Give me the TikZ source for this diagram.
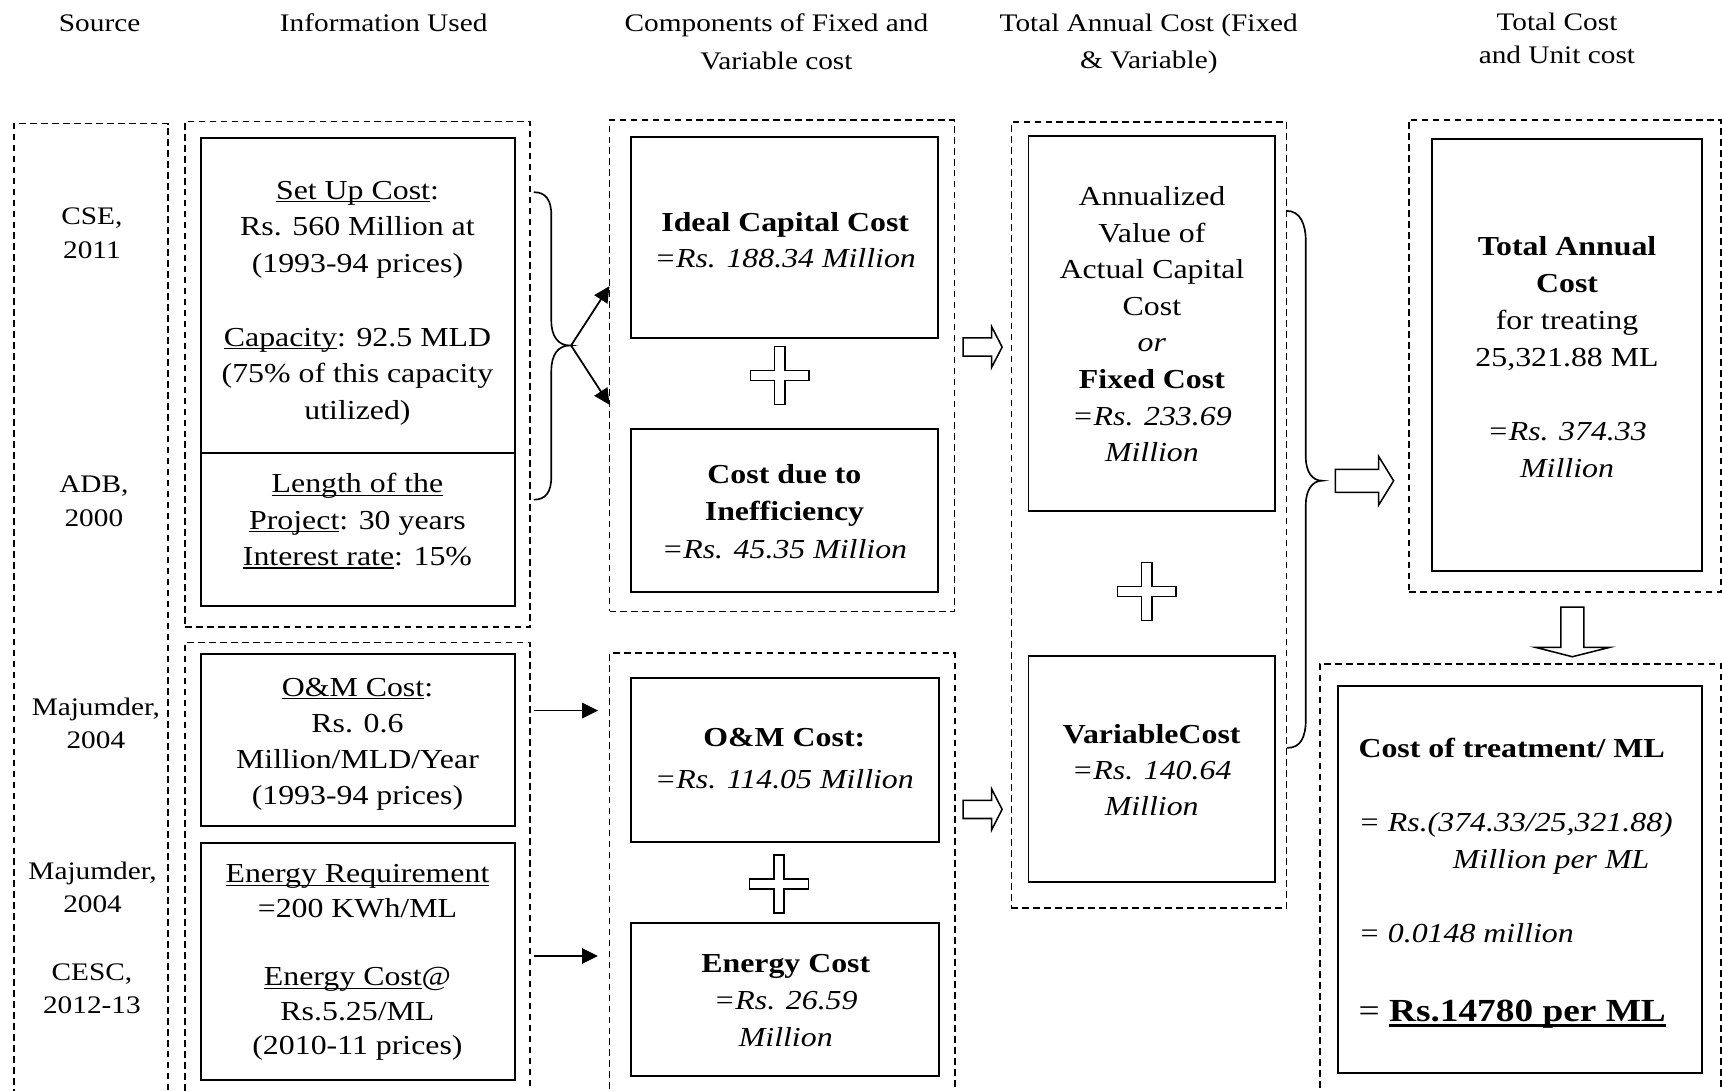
\documentclass[tikz,border=0pt]{standalone}
\usepackage{fontspec}
\setmainfont{Liberation Serif}[FakeStretch=1.16]
\usetikzlibrary{arrows.meta}
\newcommand\setfs[2]{\fontsize{#1}{#2}\selectfont}
\newsavebox\ulbox
\newcommand\ulx[1]{\sbox\ulbox{#1}\leavevmode\rlap{\rule[-3pt]{\wd\ulbox}{1.3pt}}\usebox\ulbox}
\newcommand\ulxx[1]{\sbox\ulbox{#1}\leavevmode\rlap{\rule[-4.5pt]{\wd\ulbox}{2.4pt}}\usebox\ulbox}
\newcommand\plusat[2]{\draw[blk,shift={(#1,#2)}] (-4.6,-26.3) -- (4.6,-26.3) -- (4.6,-4.6) -- (26.8,-4.6) -- (26.8,4.6) -- (4.6,4.6) -- (4.6,26.3) -- (-4.6,26.3) -- (-4.6,4.6) -- (-26.8,4.6) -- (-26.8,-4.6) -- (-4.6,-4.6) -- cycle;}
\newcommand\rarrsmall[2]{\draw[blk,shift={(#1,#2)}] (0,-8.3) -- (26,-8.3) -- (26,-18.5) -- (35.5,0) -- (26,18.5) -- (26,8.3) -- (0,8.3) -- cycle;}
\begin{document}
\begin{tikzpicture}[x=1pt,y=-1pt,
  sbox/.style={draw, line width=1.8pt, inner sep=0pt, outer sep=0pt, anchor=north west},
  dbox/.style={draw, line width=1.4pt, dash pattern=on 6pt off 4pt, inner sep=0pt, outer sep=0pt, anchor=north west},
  txt/.style={inner sep=0pt, outer sep=0pt, align=center},
  arr/.style={line width=1.6pt, -{Triangle[length=14.5pt,width=14pt]}},
  blk/.style={line width=1.4pt, fill=white, line join=miter},
  brace/.style={line width=1.5pt}]

\useasboundingbox (0,0) rectangle (1568,993);
\fill[white] (0,0) rectangle (1568,993);

% ---------- headers ----------
\node[txt, anchor=base, font=\setfs{23}{30}] (h1) at (90.7,28.8) {Source};
\node[txt, anchor=base, font=\setfs{23}{30}] (h2) at (349.4,28.8) {Information Used};
\node[txt, font=\setfs{23}{34}] (h3) at (707,38) {Components of Fixed and\\Variable cost};
\node[txt, font=\setfs{23}{34}] (h4) at (1046,40.2) {Total Annual Cost (Fixed\\\& Variable)};
\node[txt, font=\setfs{23}{30}] (h5) at (1417.7,34.5) {Total Cost\\and Unit cost};

% ---------- dashed groups ----------
\node[dbox, minimum width=140.4, minimum height=900] (src) at (12.6,112.5) {};
\node[dbox, minimum width=314, minimum height=460.5] (g2t) at (168.5,110.5) {};
\node[dbox, minimum width=314, minimum height=430] (g2b) at (168.5,585) {};
\node[dbox, minimum width=314, minimum height=447.2] (g3t) at (555,109.5) {};
\node[dbox, minimum width=314.6, minimum height=430] (g3b) at (555,594.8) {};
\node[dbox, minimum width=250.5, minimum height=716] (g4) at (921,111) {};
\node[dbox, minimum width=284, minimum height=429.7] (g5t) at (1283,109.2) {};
\node[dbox, minimum width=365, minimum height=420] (g5b) at (1202,604.4) {};

% ---------- solid boxes ----------
\node[sbox, minimum width=286, minimum height=287] (info1a) at (183,125.5) {};
\node[sbox, minimum width=286, minimum height=139.5] (info1b) at (183,412.5) {};
\node[sbox, minimum width=286, minimum height=156.4] (infoom) at (183,595.6) {};
\node[sbox, minimum width=286, minimum height=216.1] (infoen) at (183,767.4) {};
\node[sbox, minimum width=280, minimum height=182.5] (ideal) at (574.5,125) {};
\node[sbox, minimum width=280, minimum height=148.2] (ineff) at (574.5,390.6) {};
\node[sbox, minimum width=280, minimum height=149.4] (omc) at (574.6,617) {};
\node[sbox, minimum width=280, minimum height=139.2] (enc) at (574.6,840.8) {};
\node[sbox, minimum width=224.5, minimum height=341.5] (fixed) at (936.5,123.5) {};
\node[sbox, minimum width=224.5, minimum height=205.4] (var) at (936.5,597.4) {};
\node[sbox, minimum width=245.6, minimum height=392.7] (tot) at (1304,127) {};
\node[sbox, minimum width=331.5, minimum height=352] (unit) at (1218.5,625) {};

% ---------- source texts ----------
\node[txt, font=\setfs{23}{31}] (s1) at (83.7,212) {CSE,\\2011};
\node[txt, font=\setfs{23}{31}] (s2) at (85.5,456.7) {ADB,\\2000};
\node[txt, font=\setfs{23}{30.4}] (s3) at (87.3,658.4) {Majumder,\\2004};
\node[txt, font=\setfs{23}{30}] (s4) at (84.3,808.4) {Majumder,\\2004};
\node[txt, font=\setfs{23}{30.3}] (s5) at (83.7,900) {CESC,\\2012-13};

% ---------- information texts ----------
\node[txt, font=\setfs{25}{33.45}] (t1a) at (325.5,276.1) {\ulx{Set Up Cost}:\\Rs. 560 Million at\\(1993-94 prices)\\[33.45pt]\ulx{Capacity}: 92.5 MLD\\(75\% of this capacity\\utilized)};
\node[txt, font=\setfs{25}{32.9}] (t1b) at (325.5,474.5) {\ulx{Length of the}\\\ulx{Project}: 30 years\\\ulx{Interest rate}: 15\%};
\node[txt, font=\setfs{25}{32.9}] (t2) at (325.5,677.5) {\ulx{O\&M Cost}:\\Rs. 0.6\\Million/MLD/Year\\(1993-94 prices)};
\node[txt, font=\setfs{25}{31.3}] (t3) at (325.5,876.5) {\ulx{Energy Requirement}\\=200 KWh/ML\\[31.3pt]\ulx{Energy Cost}@\\Rs.5.25/ML\\(2010-11 prices)};

% ---------- component texts ----------
\node[txt, font=\setfs{25}{32.8}] (t4) at (715,218.3) {\textbf{Ideal Capital Cost}\\\textit{=Rs. 188.34 Million}};
\node[txt, font=\setfs{25}{33.7}] (t5) at (714.3,465.9) {\textbf{Cost due to}\\\textbf{Inefficiency}\\\textit{=Rs. 45.35 Million}};
\node[txt, font=\setfs{25}{38}] (t6) at (714.2,690.7) {\textbf{O\&M Cost:}\\\textit{=Rs. 114.05 Million}};
\node[txt, font=\setfs{25}{33.4}] (t7) at (715.5,911.2) {\textbf{Energy Cost}\\\textit{=Rs. 26.59}\\\textit{Million}};

% ---------- total annual texts ----------
\node[txt, font=\setfs{25}{33.35}] (t8) at (1048.9,295.2) {Annualized\\Value of\\Actual Capital\\Cost\\\textit{or}\\\textbf{Fixed Cost}\\\textit{=Rs. 233.69}\\\textit{Million}};
\node[txt, font=\setfs{25}{32.6}] (t9) at (1048.7,701) {\textbf{VariableCost}\\\textit{=Rs. 140.64}\\\textit{Million}};

% ---------- total cost texts ----------
\node[txt, font=\setfs{25}{33.7}] (t10) at (1426.9,324.8) {\textbf{Total Annual}\\\textbf{Cost}\\for treating\\25,321.88 ML\\[33.7pt]\textit{=Rs. 374.33}\\\textit{Million}};
\node[txt, align=left, anchor=west, font=\setfs{25}{33.6}] (t11) at (1237,765.5) {\textbf{Cost of treatment/ ML}\\[33.6pt]\textit{= Rs.(374.33/25,321.88)}\\\hspace*{86pt}\textit{Million per ML}\\[34.2pt]\textit{= 0.0148 million}};
\node[inner sep=0pt, anchor=base west, font=\setfs{29.3}{35}] (t12) at (1237,930.3) {= \textbf{\ulxx{Rs.14780 per ML}}};

% ---------- plus signs ----------
\plusat{710}{342}
\plusat{709.4}{804.8}
\plusat{1044.2}{538.5}

% ---------- block arrows ----------
\rarrsmall{877}{316}
\rarrsmall{877}{737}
\draw[blk] (1216,427.3) -- (1255.3,427.3) -- (1255.3,415.5) -- (1269,437.8) -- (1255.3,460) -- (1255.3,448.3) -- (1216,448.3) -- cycle;
\draw[blk] (1421.2,552.8) -- (1421.2,589.4) -- (1398,589.4) -- (1431.7,598) -- (1466,589.4) -- (1442.2,589.4) -- (1442.2,552.8) -- cycle;

% ---------- braces ----------
\draw[brace] (486,175) .. controls (497,175) and (502,182) .. (502,196) -- (502,292) .. controls (502,306) and (508,314.6) .. (519,314.6) .. controls (508,314.6) and (502,323) .. (502,338) -- (502,434) .. controls (502,448) and (497,455) .. (486,455);
\draw[brace] (1171.5,192) .. controls (1184,192) and (1189,204) .. (1189,220) -- (1189,416) .. controls (1189,430) and (1195,437.7) .. (1204,437.7) .. controls (1195,437.7) and (1189,446) .. (1189,460) -- (1189,655) .. controls (1189,672) and (1184,681) .. (1172,681);

% ---------- connectors ----------
\coordinate (lbt) at (520,314.6);
\coordinate (ya) at (0,260.5);
\coordinate (yb) at (0,368.6);
\coordinate (yc) at (0,647);
\coordinate (yd) at (0,870.5);
\draw[arr] (lbt) -- (g3t.west |- ya);
\draw[arr] (lbt) -- (g3t.west |- yb);
\draw[arr, shorten <=3.5pt, shorten >=10.5pt] (g2b.east |- yc) -- (g3b.west |- yc);
\draw[arr, shorten <=3.5pt, shorten >=10.5pt] (g2b.east |- yd) -- (g3b.west |- yd);
\end{tikzpicture}
\end{document}
